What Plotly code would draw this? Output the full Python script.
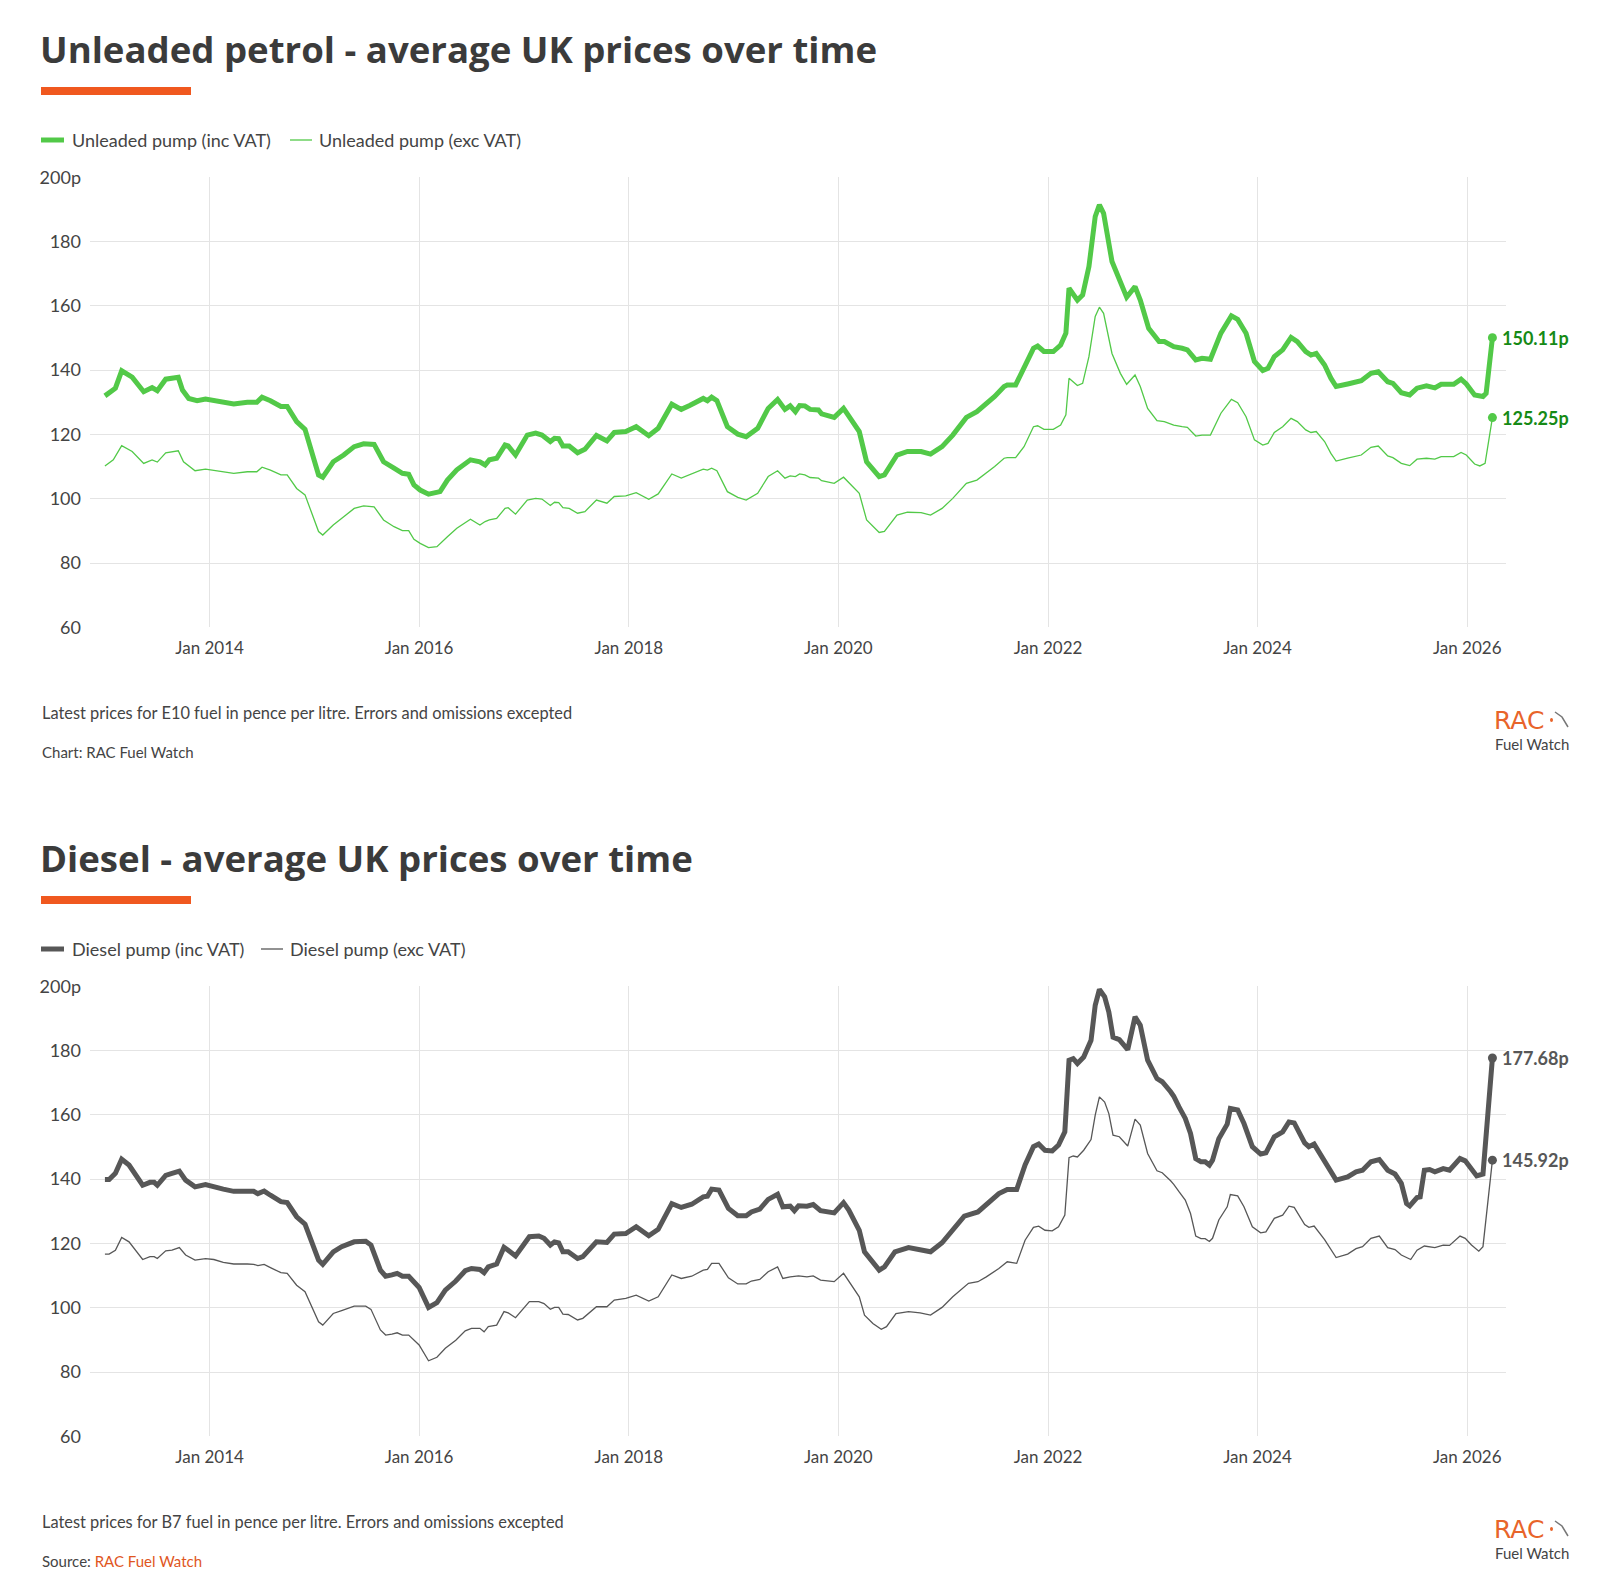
import pandas as pd
import plotly.graph_objects as go

# ---- data (decimal year, pence per litre) ----
petrol_inc_t = [2013.00, 2013.05, 2013.10, 2013.16, 2013.26, 2013.37, 2013.45, 2013.50, 2013.58, 2013.70,
                2013.74, 2013.80, 2013.88, 2013.96, 2014.04, 2014.23, 2014.36, 2014.45, 2014.50, 2014.58,
                2014.68, 2014.74, 2014.83, 2014.91, 2015.04, 2015.08, 2015.18, 2015.28, 2015.38, 2015.47,
                2015.57, 2015.66, 2015.76, 2015.84, 2015.90, 2015.95, 2016.01, 2016.09, 2016.20, 2016.27,
                2016.36, 2016.49, 2016.58, 2016.63, 2016.67, 2016.74, 2016.82, 2016.85, 2016.92, 2017.03,
                2017.11, 2017.17, 2017.25, 2017.29, 2017.33, 2017.37, 2017.43, 2017.51, 2017.58, 2017.69,
                2017.79, 2017.86, 2017.97, 2018.07, 2018.19, 2018.28, 2018.41, 2018.50, 2018.58, 2018.71,
                2018.75, 2018.79, 2018.84, 2018.94, 2019.04, 2019.12, 2019.23, 2019.33, 2019.42, 2019.49,
                2019.54, 2019.59, 2019.63, 2019.68, 2019.73, 2019.81, 2019.84, 2019.96, 2020.05, 2020.12,
                2020.20, 2020.27, 2020.33, 2020.39, 2020.44, 2020.56, 2020.66, 2020.79, 2020.88, 2020.99,
                2021.09, 2021.22, 2021.32, 2021.40, 2021.49, 2021.58, 2021.61, 2021.69, 2021.77, 2021.86,
                2021.90, 2021.96, 2022.05, 2022.12, 2022.17, 2022.20, 2022.28, 2022.33, 2022.39, 2022.45,
                2022.49, 2022.53, 2022.61, 2022.69, 2022.75, 2022.83, 2022.88, 2022.96, 2023.06, 2023.11,
                2023.20, 2023.28, 2023.33, 2023.41, 2023.47, 2023.55, 2023.65, 2023.75, 2023.81, 2023.89,
                2023.97, 2024.05, 2024.10, 2024.16, 2024.24, 2024.32, 2024.38, 2024.46, 2024.51, 2024.56,
                2024.64, 2024.70, 2024.75, 2024.86, 2024.99, 2025.08, 2025.15, 2025.24, 2025.29, 2025.37,
                2025.45, 2025.52, 2025.61, 2025.69, 2025.75, 2025.87, 2025.94, 2025.99, 2026.07, 2026.15,
                2026.18, 2026.24]
petrol_inc_p = [132.0, 133.1, 134.4, 139.8, 137.8, 133.3, 134.6, 133.6, 137.2, 137.8,
                133.8, 131.2, 130.5, 131.0, 130.5, 129.5, 130.0, 130.0, 131.6, 130.5,
                128.7, 128.7, 124.0, 121.6, 107.4, 106.7, 111.5, 113.6, 116.2, 117.1,
                116.9, 111.5, 109.5, 107.9, 107.6, 104.3, 102.7, 101.4, 102.2, 105.8,
                109.0, 112.1, 111.5, 110.5, 112.1, 112.6, 116.7, 116.4, 113.6, 119.8,
                120.4, 119.8, 117.8, 118.8, 118.7, 116.4, 116.4, 114.3, 115.4, 119.7,
                118.0, 120.6, 120.9, 122.4, 119.6, 121.9, 129.4, 127.8, 129.0, 131.2,
                130.5, 131.6, 130.5, 122.4, 120.1, 119.3, 121.9, 128.1, 130.9, 127.8,
                128.9, 127.1, 129.0, 128.9, 127.8, 127.6, 126.4, 125.3, 128.1, 124.5,
                120.9, 111.5, 109.0, 106.9, 107.4, 113.6, 114.7, 114.7, 113.9, 116.2,
                119.8, 125.3, 127.1, 129.2, 131.8, 134.9, 135.4, 135.4, 140.6, 146.8,
                147.5, 145.8, 145.8, 147.8, 151.5, 165.5, 161.8, 163.4, 172.2, 187.8,
                191.4, 188.8, 173.8, 167.0, 162.7, 166.0, 161.8, 153.0, 148.9, 148.9,
                147.3, 146.8, 146.3, 143.2, 143.7, 143.4, 151.5, 156.9, 155.8, 151.5,
                142.7, 139.9, 140.6, 144.2, 146.3, 150.2, 148.9, 145.8, 144.7, 145.2,
                141.6, 137.5, 134.9, 135.7, 136.7, 139.0, 139.5, 136.4, 135.9, 133.0,
                132.3, 134.4, 135.1, 134.5, 135.6, 135.6, 137.2, 135.7, 132.3, 131.8,
                132.8, 150.11]

petrol_exc_t = [2013.00, 2013.08, 2013.16, 2013.26, 2013.37, 2013.45, 2013.50, 2013.58, 2013.70, 2013.75,
                2013.86, 2013.96, 2014.23, 2014.36, 2014.45, 2014.50, 2014.58, 2014.68, 2014.74, 2014.83,
                2014.91, 2015.04, 2015.08, 2015.18, 2015.28, 2015.38, 2015.47, 2015.57, 2015.66, 2015.76,
                2015.84, 2015.90, 2015.95, 2016.01, 2016.09, 2016.17, 2016.27, 2016.36, 2016.49, 2016.58,
                2016.63, 2016.67, 2016.74, 2016.82, 2016.85, 2016.92, 2017.03, 2017.11, 2017.17, 2017.25,
                2017.29, 2017.33, 2017.37, 2017.43, 2017.51, 2017.58, 2017.69, 2017.79, 2017.86, 2017.97,
                2018.07, 2018.19, 2018.28, 2018.41, 2018.50, 2018.58, 2018.71, 2018.75, 2018.79, 2018.84,
                2018.94, 2019.04, 2019.12, 2019.23, 2019.33, 2019.42, 2019.49, 2019.54, 2019.59, 2019.63,
                2019.68, 2019.73, 2019.81, 2019.84, 2019.96, 2020.05, 2020.12, 2020.20, 2020.27, 2020.33,
                2020.39, 2020.44, 2020.56, 2020.66, 2020.79, 2020.88, 2020.99, 2021.09, 2021.22, 2021.32,
                2021.40, 2021.49, 2021.58, 2021.61, 2021.69, 2021.77, 2021.86, 2021.90, 2021.96, 2022.05,
                2022.12, 2022.17, 2022.20, 2022.28, 2022.33, 2022.39, 2022.45, 2022.49, 2022.53, 2022.61,
                2022.69, 2022.75, 2022.83, 2022.88, 2022.95, 2023.04, 2023.11, 2023.20, 2023.28, 2023.33,
                2023.41, 2023.47, 2023.55, 2023.65, 2023.75, 2023.81, 2023.89, 2023.97, 2024.05, 2024.10,
                2024.16, 2024.24, 2024.32, 2024.38, 2024.46, 2024.51, 2024.56, 2024.64, 2024.70, 2024.75,
                2024.86, 2024.99, 2025.08, 2025.15, 2025.24, 2025.29, 2025.37, 2025.45, 2025.52, 2025.61,
                2025.69, 2025.75, 2025.87, 2025.94, 2025.99, 2026.07, 2026.12, 2026.17, 2026.24]
petrol_exc_p = [110.2, 112.1, 116.5, 114.7, 111.0, 112.1, 111.4, 114.3, 114.9, 111.5,
                108.7, 109.2, 107.9, 108.4, 108.4, 109.8, 108.9, 107.4, 107.4, 103.2,
                101.2, 89.8, 88.7, 91.8, 94.4, 97.0, 97.8, 97.5, 93.4, 91.3,
                90.1, 90.1, 87.4, 86.1, 84.8, 85.1, 88.2, 90.8, 93.6, 91.8,
                92.9, 93.4, 93.9, 97.0, 97.2, 95.2, 99.6, 100.1, 99.9, 97.9,
                98.9, 98.8, 97.2, 97.0, 95.5, 96.0, 99.6, 98.6, 100.7, 100.9,
                101.9, 99.8, 101.5, 107.7, 106.4, 107.4, 109.2, 108.9, 109.5, 108.7,
                102.2, 100.4, 99.6, 101.7, 106.9, 108.7, 106.4, 107.1, 106.9, 107.7,
                107.4, 106.6, 106.4, 105.6, 104.8, 106.7, 104.3, 101.7, 93.4, 91.3,
                89.5, 89.8, 94.9, 95.8, 95.7, 94.9, 97.0, 100.1, 104.8, 105.8,
                107.7, 110.0, 112.6, 112.8, 112.8, 116.2, 122.4, 122.7, 121.6, 121.6,
                122.9, 126.1, 137.5, 135.2, 135.9, 144.2, 156.7, 159.6, 157.7, 145.2,
                139.0, 135.6, 138.5, 134.9, 128.1, 124.3, 124.0, 122.9, 122.4, 122.2,
                119.5, 119.8, 119.8, 126.6, 130.9, 129.9, 125.5, 118.3, 116.7, 117.2,
                120.6, 122.4, 125.0, 124.0, 121.4, 120.6, 120.9, 117.8, 114.1, 111.7,
                112.6, 113.6, 116.0, 116.4, 113.3, 112.8, 111.0, 110.3, 112.3, 112.6,
                112.3, 113.1, 113.1, 114.4, 113.6, 110.8, 110.2, 111.0, 125.25]

diesel_inc_t = [2013.00, 2013.04, 2013.10, 2013.16, 2013.23, 2013.29, 2013.36, 2013.43, 2013.47, 2013.50,
                2013.58, 2013.64, 2013.71, 2013.77, 2013.86, 2013.96, 2014.04, 2014.13, 2014.23, 2014.36,
                2014.42, 2014.46, 2014.52, 2014.58, 2014.68, 2014.74, 2014.83, 2014.91, 2015.04, 2015.08,
                2015.18, 2015.26, 2015.38, 2015.49, 2015.54, 2015.63, 2015.68, 2015.74, 2015.79, 2015.84,
                2015.90, 2016.00, 2016.09, 2016.17, 2016.25, 2016.35, 2016.44, 2016.50, 2016.58, 2016.62,
                2016.66, 2016.74, 2016.81, 2016.85, 2016.92, 2017.05, 2017.14, 2017.19, 2017.25, 2017.29,
                2017.33, 2017.37, 2017.42, 2017.51, 2017.56, 2017.69, 2017.79, 2017.86, 2017.97, 2018.07,
                2018.19, 2018.28, 2018.41, 2018.50, 2018.60, 2018.71, 2018.75, 2018.79, 2018.86, 2018.95,
                2019.04, 2019.12, 2019.17, 2019.25, 2019.33, 2019.42, 2019.47, 2019.54, 2019.58, 2019.62,
                2019.70, 2019.76, 2019.83, 2019.96, 2020.05, 2020.10, 2020.20, 2020.25, 2020.33, 2020.39,
                2020.44, 2020.54, 2020.67, 2020.78, 2020.88, 2020.99, 2021.09, 2021.20, 2021.33, 2021.41,
                2021.53, 2021.61, 2021.70, 2021.78, 2021.86, 2021.91, 2021.97, 2022.04, 2022.10, 2022.16,
                2022.20, 2022.24, 2022.28, 2022.34, 2022.41, 2022.45, 2022.49, 2022.54, 2022.58, 2022.62,
                2022.68, 2022.76, 2022.83, 2022.88, 2022.95, 2023.04, 2023.09, 2023.17, 2023.20, 2023.25,
                2023.31, 2023.36, 2023.41, 2023.46, 2023.50, 2023.54, 2023.57, 2023.63, 2023.71, 2023.74,
                2023.81, 2023.87, 2023.95, 2024.03, 2024.08, 2024.16, 2024.24, 2024.30, 2024.35, 2024.45,
                2024.49, 2024.54, 2024.64, 2024.75, 2024.86, 2024.94, 2025.00, 2025.08, 2025.16, 2025.24,
                2025.31, 2025.37, 2025.42, 2025.45, 2025.52, 2025.55, 2025.59, 2025.64, 2025.69, 2025.77,
                2025.83, 2025.93, 2025.98, 2026.04, 2026.09, 2026.15, 2026.24]
diesel_inc_p = [139.9, 139.9, 141.8, 146.2, 144.4, 141.6, 138.1, 139.0, 139.0, 138.1,
                141.2, 141.8, 142.5, 139.7, 137.6, 138.3, 137.8, 136.9, 136.2, 136.4,
                136.2, 135.5, 136.3, 135.0, 133.0, 132.7, 128.3, 126.0, 114.8, 113.5,
                117.4, 119.0, 120.5, 120.7, 119.5, 111.7, 109.8, 110.2, 110.7, 109.8,
                109.8, 106.3, 100.1, 101.6, 105.5, 108.3, 111.5, 112.2, 111.9, 110.9,
                112.7, 113.6, 118.8, 117.9, 116.1, 122.1, 122.3, 121.6, 119.5, 120.5,
                120.2, 117.4, 117.4, 115.3, 115.9, 120.5, 120.3, 122.9, 123.1, 125.2,
                122.4, 124.4, 132.4, 131.2, 132.2, 134.5, 134.7, 136.9, 136.6, 130.9,
                128.6, 128.6, 129.8, 130.7, 133.7, 135.3, 131.4, 131.6, 130.2, 131.7,
                131.6, 132.1, 130.2, 129.5, 132.7, 130.4, 124.1, 117.4, 114.3, 111.7,
                112.7, 117.4, 118.7, 118.2, 117.4, 120.2, 124.1, 128.5, 129.8, 131.9,
                135.5, 136.8, 136.8, 144.4, 150.1, 150.9, 149.0, 148.8, 150.6, 154.7,
                177.0, 177.5, 176.0, 178.0, 183.2, 194.1, 199.0, 196.7, 192.0, 184.2,
                183.4, 180.3, 190.5, 187.9, 177.0, 171.3, 170.3, 167.2, 165.8, 162.5,
                158.9, 154.2, 146.4, 145.4, 145.4, 144.4, 145.9, 152.6, 157.1, 162.0,
                161.5, 157.3, 150.1, 147.8, 148.2, 153.2, 154.7, 157.8, 157.5, 151.3,
                150.1, 150.9, 145.9, 139.7, 140.7, 142.3, 142.8, 145.4, 146.1, 142.8,
                141.6, 138.7, 132.4, 131.7, 134.3, 134.5, 142.8, 143.0, 142.3, 143.3,
                142.8, 146.4, 145.7, 142.8, 141.0, 141.6, 177.68]

diesel_exc_t = [2013.00, 2013.04, 2013.10, 2013.16, 2013.23, 2013.29, 2013.36, 2013.43, 2013.47, 2013.50,
                2013.58, 2013.64, 2013.71, 2013.77, 2013.86, 2013.96, 2014.04, 2014.13, 2014.23, 2014.36,
                2014.42, 2014.46, 2014.52, 2014.58, 2014.68, 2014.74, 2014.83, 2014.91, 2015.04, 2015.08,
                2015.18, 2015.26, 2015.38, 2015.49, 2015.54, 2015.63, 2015.68, 2015.74, 2015.79, 2015.84,
                2015.90, 2016.00, 2016.09, 2016.17, 2016.25, 2016.35, 2016.44, 2016.50, 2016.58, 2016.62,
                2016.66, 2016.74, 2016.81, 2016.85, 2016.92, 2017.05, 2017.14, 2017.19, 2017.25, 2017.29,
                2017.33, 2017.37, 2017.42, 2017.51, 2017.56, 2017.69, 2017.79, 2017.86, 2017.97, 2018.07,
                2018.19, 2018.28, 2018.41, 2018.50, 2018.60, 2018.71, 2018.75, 2018.79, 2018.86, 2018.95,
                2019.04, 2019.12, 2019.17, 2019.25, 2019.33, 2019.42, 2019.47, 2019.54, 2019.62, 2019.70,
                2019.76, 2019.83, 2019.96, 2020.05, 2020.10, 2020.20, 2020.25, 2020.33, 2020.41, 2020.46,
                2020.55, 2020.67, 2020.78, 2020.88, 2020.99, 2021.09, 2021.24, 2021.33, 2021.41, 2021.53,
                2021.61, 2021.70, 2021.78, 2021.86, 2021.91, 2021.97, 2022.04, 2022.10, 2022.16, 2022.20,
                2022.24, 2022.28, 2022.34, 2022.41, 2022.45, 2022.49, 2022.54, 2022.58, 2022.62, 2022.68,
                2022.76, 2022.83, 2022.88, 2022.95, 2023.04, 2023.09, 2023.17, 2023.20, 2023.25, 2023.31,
                2023.36, 2023.41, 2023.46, 2023.50, 2023.54, 2023.57, 2023.63, 2023.71, 2023.74, 2023.81,
                2023.87, 2023.95, 2024.03, 2024.08, 2024.16, 2024.24, 2024.30, 2024.35, 2024.45, 2024.49,
                2024.54, 2024.64, 2024.75, 2024.86, 2024.94, 2025.00, 2025.08, 2025.16, 2025.24, 2025.31,
                2025.37, 2025.43, 2025.46, 2025.52, 2025.59, 2025.69, 2025.77, 2025.83, 2025.93, 2025.98,
                2026.04, 2026.11, 2026.15, 2026.24]
diesel_exc_p = [116.7, 116.7, 117.9, 121.9, 120.5, 117.9, 115.0, 115.9, 115.9, 115.3,
                117.7, 117.9, 118.7, 116.4, 114.8, 115.3, 115.0, 114.1, 113.6, 113.6,
                113.5, 113.1, 113.5, 112.5, 110.9, 110.7, 107.0, 105.0, 95.6, 94.6,
                98.2, 99.1, 100.5, 100.5, 99.5, 93.1, 91.5, 91.8, 92.2, 91.5,
                91.5, 88.4, 83.5, 84.6, 87.4, 89.9, 92.8, 93.6, 93.6, 92.5,
                94.1, 94.6, 98.8, 98.4, 96.9, 101.9, 101.9, 101.3, 99.5, 100.1,
                100.1, 98.0, 97.9, 96.2, 96.7, 100.3, 100.3, 102.4, 102.9, 103.9,
                102.1, 103.4, 110.2, 109.1, 109.8, 111.7, 111.9, 113.8, 113.8, 109.3,
                107.4, 107.4, 108.3, 108.8, 111.2, 112.7, 109.1, 109.6, 109.9, 109.6,
                109.9, 108.6, 108.1, 110.7, 108.3, 103.4, 97.7, 95.1, 93.3, 94.1,
                98.2, 98.8, 98.4, 97.7, 100.1, 103.4, 107.6, 108.1, 109.6, 112.2,
                114.3, 113.8, 121.0, 125.0, 125.4, 124.1, 123.9, 125.2, 128.8, 146.7,
                147.2, 146.9, 149.0, 152.3, 159.9, 165.6, 164.0, 160.4, 153.7, 153.2,
                150.3, 158.7, 156.8, 148.0, 142.6, 142.0, 139.5, 138.4, 136.1, 133.5,
                129.3, 122.3, 121.5, 121.5, 120.6, 121.6, 127.3, 131.4, 135.2, 134.8,
                131.4, 125.2, 123.3, 123.6, 127.8, 128.8, 131.6, 131.2, 125.9, 125.0,
                125.4, 121.2, 115.6, 116.7, 118.4, 119.0, 121.6, 122.3, 118.7, 118.1,
                116.4, 115.3, 115.0, 117.9, 119.2, 118.7, 119.5, 119.4, 122.3, 121.6,
                119.5, 117.6, 119.0, 145.92]

tick_years = [2014, 2016, 2018, 2020, 2022, 2024, 2026]
y_ticks = [60, 80, 100, 120, 140, 160, 180, 200]


def to_dates(years):
    out = []
    for y in years:
        yr = int(y)
        out.append(pd.Timestamp(yr, 1, 1) + pd.Timedelta(days=(y - yr) * 365.25))
    return out


W, H = 1588, 1569          # page body has an 8px margin
def px(X):
    return (X - 8) / W
def py(Y):
    return 1 - (Y - 8) / H


GREEN = "#52c948"
GREEN_TXT = "#168a16"
GREY = "#575757"
TEXT = "#444444"
ORANGE = "#f0581f"
FONT = "Lato"
TITLE_FONT = "Open Sans"

fig = go.Figure()

panels = [
    dict(xa="x", ya="y", dy=0, color=GREEN, lab=GREEN_TXT,
         title="Unleaded petrol - average UK prices over time",
         names=["Unleaded pump (inc VAT)", "Unleaded pump (exc VAT)"],
         leg2=290,
         series=[(petrol_inc_t, petrol_inc_p), (petrol_exc_t, petrol_exc_p)],
         note="Latest prices for E10 fuel in pence per litre. Errors and omissions excepted",
         source="Chart: RAC Fuel Watch"),
    dict(xa="x2", ya="y2", dy=809, color=GREY, lab=GREY,
         title="Diesel - average UK prices over time",
         names=["Diesel pump (inc VAT)", "Diesel pump (exc VAT)"],
         leg2=261,
         series=[(diesel_inc_t, diesel_inc_p), (diesel_exc_t, diesel_exc_p)],
         note="Latest prices for B7 fuel in pence per litre. Errors and omissions excepted",
         source="Source: <span style='color:#e0561e'>RAC Fuel Watch</span>"),
]

annotations = []
shapes = []

for p in panels:
    dy = p["dy"]
    for (t, v), width, name in zip(p["series"], [5, 1.3], p["names"]):
        d = to_dates(t)
        fig.add_trace(go.Scatter(x=d, y=v, mode="lines", name=name, xaxis=p["xa"], yaxis=p["ya"],
                                 line=dict(color=p["color"], width=width), showlegend=False,
                                 hoverinfo="x+y"))
        fig.add_trace(go.Scatter(x=[d[-1]], y=[v[-1]], mode="markers", xaxis=p["xa"], yaxis=p["ya"],
                                 marker=dict(color=p["color"], size=9), showlegend=False,
                                 hoverinfo="skip"))
        annotations.append(dict(x=d[-1], y=v[-1], xref=p["xa"], yref=p["ya"], text=f"{v[-1]:.2f}p",
                                showarrow=False, xanchor="left", yanchor="middle", xshift=8,
                                font=dict(family=FONT, size=18, color=p["lab"], weight=700)))

    # title, orange rule, legend, footnotes, logo
    annotations.append(dict(x=px(38), y=py(49 + dy), xref="paper", yref="paper", text=p["title"],
                            showarrow=False, xanchor="left", yanchor="middle",
                            font=dict(family=TITLE_FONT, size=36.6, color="#3b3b3b", weight=700)))
    shapes.append(dict(type="rect", xref="paper", yref="paper", x0=px(41), x1=px(191),
                       y0=py(95 + dy), y1=py(87 + dy), fillcolor=ORANGE, line=dict(width=0)))

    for x0, x1, w, tx, name in [(41, 64, 5, 70, p["names"][0]), (p["leg2"], p["leg2"] + 22, 1.3, p["leg2"] + 27, p["names"][1])]:
        shapes.append(dict(type="line", xref="paper", yref="paper", x0=px(x0), x1=px(x1),
                           y0=py(140 + dy), y1=py(140 + dy), line=dict(color=p["color"], width=w)))
        annotations.append(dict(x=px(tx), y=py(140 + dy), xref="paper", yref="paper", text=name,
                                showarrow=False, xanchor="left", yanchor="middle",
                                font=dict(family=FONT, size=18, color=TEXT)))

    annotations.append(dict(x=px(40), y=py(712 + dy), xref="paper", yref="paper", text=p["note"],
                            showarrow=False, xanchor="left", yanchor="middle",
                            font=dict(family=FONT, size=16.4, color=TEXT)))
    annotations.append(dict(x=px(40), y=py(752 + dy), xref="paper", yref="paper", text=p["source"],
                            showarrow=False, xanchor="left", yanchor="middle",
                            font=dict(family=FONT, size=15, color=TEXT)))
    annotations.append(dict(x=px(1492), y=py(720 + dy), xref="paper", yref="paper", text="RAC",
                            showarrow=False, xanchor="left", yanchor="middle",
                            font=dict(family="DejaVu Sans", size=25, color="#e8642a")))
    annotations.append(dict(x=px(1493), y=py(744 + dy), xref="paper", yref="paper", text="Fuel Watch",
                            showarrow=False, xanchor="left", yanchor="middle",
                            font=dict(family=FONT, size=15, color=TEXT)))
    # small pump-nozzle mark next to the logo
    shapes.append(dict(type="path", xref="paper", yref="paper",
                       path=f"M {px(1555)} {py(712 + dy)} L {px(1562)} {py(717 + dy)} L {px(1568)} {py(727 + dy)}",
                       line=dict(color="#777777", width=1.5)))
    shapes.append(dict(type="circle", xref="paper", yref="paper", x0=px(1550), x1=px(1553),
                       y0=py(722 + dy), y1=py(718 + dy), fillcolor="#e8642a", line=dict(width=0)))

axis_x = dict(type="date", range=["2012-11-10", "2026-05-16"],
              tickvals=[pd.Timestamp(y, 1, 1) for y in tick_years],
              ticktext=[f"Jan {y}" for y in tick_years],
              showgrid=True, gridcolor="#e4e4e4", gridwidth=1, zeroline=False, showline=False,
              ticks="", ticklabelstandoff=9, tickfont=dict(family=FONT, size=17, color=TEXT),
              domain=[px(90), px(1506)], fixedrange=True, automargin=False)
axis_y = dict(range=[60, 200], tickvals=y_ticks,
              ticktext=[str(v) for v in y_ticks[:-1]] + [f"{y_ticks[-1]}p"],
              showgrid=True, gridcolor="#e4e4e4", gridwidth=1, zeroline=False, showline=False,
              ticks="", ticklabelstandoff=8, tickfont=dict(family=FONT, size=18, color=TEXT),
              fixedrange=True, automargin=False)

fig.update_layout(
    width=W, height=H, margin=dict(l=0, r=0, t=0, b=0, pad=0), autosize=False,
    paper_bgcolor="white", plot_bgcolor="white", showlegend=False,
    font=dict(family=FONT, color=TEXT),
    xaxis=dict(axis_x, anchor="y"),
    yaxis=dict(axis_y, anchor="x", domain=[py(627.3), py(177.3)]),
    xaxis2=dict(axis_x, anchor="y2"),
    yaxis2=dict(axis_y, anchor="x2", domain=[py(1436.3), py(986.3)]),
    annotations=annotations, shapes=shapes,
)

fig.write_html("out.html")
